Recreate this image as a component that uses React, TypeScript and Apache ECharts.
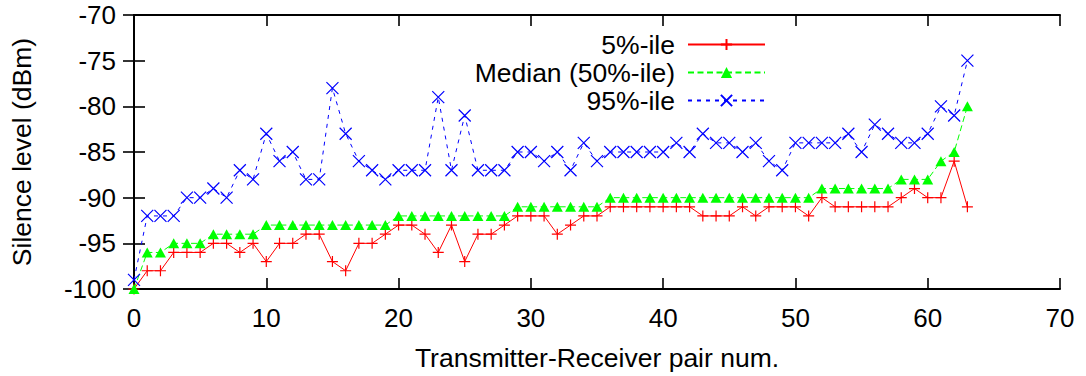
import React, { useEffect, useRef } from "react";
import * as echarts from "echarts";

const pairs: number[] = Array.from({ length: 64 }, (_, i) => i);

const p5: number[] = [
  -100, -98, -98, -96, -96, -96, -95, -95, -96, -95,
  -97, -95, -95, -94, -94, -97, -98, -95, -95, -94,
  -93, -93, -94, -96, -93, -97, -94, -94, -93, -92,
  -92, -92, -94, -93, -92, -92, -91, -91, -91, -91,
  -91, -91, -91, -92, -92, -92, -91, -92, -91, -91,
  -91, -92, -90, -91, -91, -91, -91, -91, -90, -89,
  -90, -90, -86, -91,
];

const p50: number[] = [
  -100, -96, -96, -95, -95, -95, -94, -94, -94, -94,
  -93, -93, -93, -93, -93, -93, -93, -93, -93, -93,
  -92, -92, -92, -92, -92, -92, -92, -92, -92, -91,
  -91, -91, -91, -91, -91, -91, -90, -90, -90, -90,
  -90, -90, -90, -90, -90, -90, -90, -90, -90, -90,
  -90, -90, -89, -89, -89, -89, -89, -89, -88, -88,
  -88, -86, -85, -80,
];

const p95: number[] = [
  -99, -92, -92, -92, -90, -90, -89, -90, -87, -88,
  -83, -86, -85, -88, -88, -78, -83, -86, -87, -88,
  -87, -87, -87, -79, -87, -81, -87, -87, -87, -85,
  -85, -86, -85, -87, -84, -86, -85, -85, -85, -85,
  -85, -84, -85, -83, -84, -84, -85, -84, -86, -87,
  -84, -84, -84, -84, -83, -85, -82, -83, -84, -84,
  -83, -80, -81, -75,
];

const seriesNames = ["5%-ile", "Median (50%-ile)", "95%-ile"];
const xRange = { min: 0, max: 70, interval: 10 };
const yRange = { min: -100, max: -70, interval: 5 };

const FONT = "'Liberation Sans', Arial, Helvetica, sans-serif";

export default function App() {
  const ref = useRef<HTMLDivElement>(null);

  useEffect(() => {
    if (!ref.current) return;
    const chart = echarts.init(ref.current, undefined, { renderer: "svg" });

    const toPts = (arr: number[]) => pairs.map((x, i) => [x, arr[i]]);

    const axisLine = { show: true, lineStyle: { color: "#000", width: 2 } };
    const axisTick = { show: true, inside: true, length: 11, lineStyle: { color: "#000", width: 1.6 } };

    chart.setOption({
      animation: false,
      backgroundColor: "#fff",
      textStyle: { fontFamily: FONT },
      grid: { left: 133, right: 26, top: 15, bottom: 86, containLabel: false },
      legend: {
        orient: "vertical",
        align: "right",
        right: 320,
        top: 31,
        padding: 0,
        itemGap: 1,
        itemWidth: 77,
        itemHeight: 14,
        textStyle: { fontSize: 26.5, color: "#000", fontFamily: FONT, padding: [0, 8, 0, 0] },
        data: seriesNames,
      },
      xAxis: [
        {
          type: "value",
          ...xRange,
          name: "Transmitter-Receiver pair num.",
          nameLocation: "middle",
          nameGap: 55,
          nameTextStyle: { fontSize: 26.5, color: "#000", fontFamily: FONT },
          axisLine,
          axisTick,
          splitLine: { show: false },
          axisLabel: { fontSize: 26, color: "#000", margin: 16, fontFamily: FONT },
        },
        {
          type: "value",
          position: "top",
          ...xRange,
          axisLine,
          axisTick,
          splitLine: { show: false },
          axisLabel: { show: false },
        },
      ],
      yAxis: [
        {
          type: "value",
          ...yRange,
          name: "Silence level (dBm)",
          nameLocation: "middle",
          nameGap: 99,
          nameTextStyle: { fontSize: 26.5, color: "#000", fontFamily: FONT },
          axisLine,
          axisTick,
          splitLine: { show: false },
          axisLabel: { fontSize: 26, color: "#000", margin: 18, fontFamily: FONT },
        },
        {
          type: "value",
          position: "right",
          ...yRange,
          axisLine,
          axisTick,
          splitLine: { show: false },
          axisLabel: { show: false },
        },
      ],
      series: [
        {
          name: seriesNames[0],
          type: "line",
          data: toPts(p5),
          symbol: "path://M5,0L5,10M0,5L10,5",
          symbolSize: 11,
          showAllSymbol: true,
          lineStyle: { color: "#ff0000", width: 1, type: "solid" },
          itemStyle: { color: "#ff0000", borderColor: "#ff0000", borderWidth: 1.2 },
        },
        {
          name: seriesNames[1],
          type: "line",
          data: toPts(p50),
          symbol: "triangle",
          symbolSize: [11, 10],
          showAllSymbol: true,
          lineStyle: { color: "#00ff00", width: 1, type: [6, 3.5] },
          itemStyle: { color: "#00ff00", borderColor: "#00ff00", borderWidth: 0 },
        },
        {
          name: seriesNames[2],
          type: "line",
          data: toPts(p95),
          symbol: "path://M0,0L10,10M10,0L0,10",
          symbolSize: 12,
          showAllSymbol: true,
          lineStyle: { color: "#0000ff", width: 1, type: [4, 5] },
          itemStyle: { color: "#0000ff", borderColor: "#0000ff", borderWidth: 1.2 },
        },
      ],
    });

    return () => chart.dispose();
  }, []);

  return (
    <div
      ref={ref}
      style={{ position: "fixed", left: 0, top: 0, width: 1086, height: 376, background: "#fff" }}
    />
  );
}
